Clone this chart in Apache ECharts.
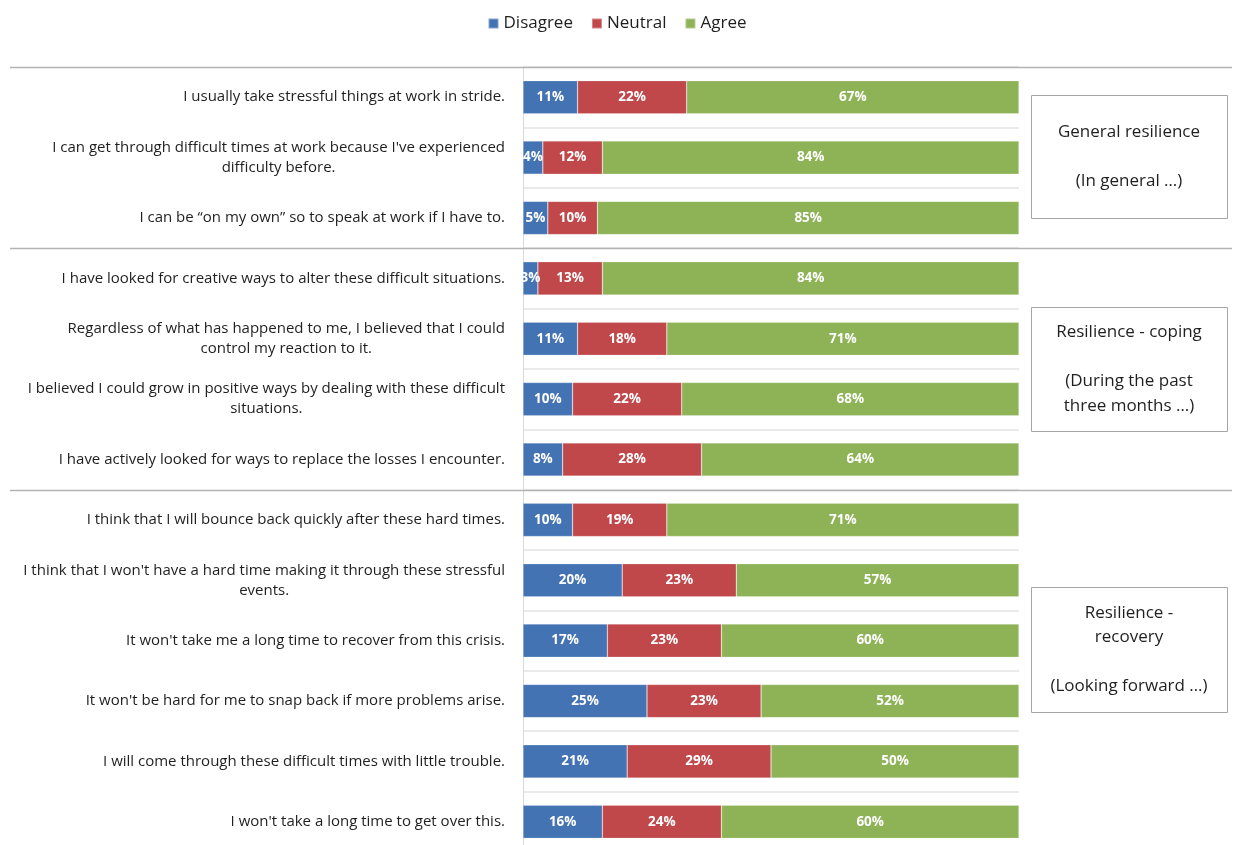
<!DOCTYPE html>
<html>
<head>
<meta charset="utf-8">
<title>Resilience survey</title>
<script src="https://cdn.jsdelivr.net/npm/echarts@6/dist/echarts.min.js"></script>
<style>
  html, body { margin: 0; padding: 0; background: #fff; overflow: hidden; }
  /* the last row runs slightly past the bottom edge of the window */
  #chart { width: 1234px; height: 860px; }
</style>
</head>
<body>
<div id="chart"></div>
<script>
// Survey statements, top to bottom
const statements = [
  "I usually take stressful things at work in stride.",
  "I can get through difficult times at work because I've experienced\ndifficulty before.",
  "I can be \u201con my own\u201d so to speak at work if I have to.",
  "I have looked for creative ways to alter these difficult situations.",
  "Regardless of what has happened to me, I believed that I could\ncontrol my reaction to it.",
  "I believed I could grow in positive ways by dealing with these difficult\nsituations.",
  "I have actively looked for ways to replace the losses I encounter.",
  "I think that I will bounce back quickly after these hard times.",
  "I think that I won't have a hard time making it through these stressful\nevents.",
  "It won't take me a long time to recover from this crisis.",
  "It won't be hard for me to snap back if more problems arise.",
  "I will come through these difficult times with little trouble.",
  "I won't take a long time to get over this."
];

// Share of responses (%)
const disagree = [11, 4, 5, 3, 11, 10, 8, 10, 20, 17, 25, 21, 16];
const neutral  = [22, 12, 10, 13, 18, 22, 28, 19, 23, 23, 23, 29, 24];
const agree    = [67, 84, 85, 84, 71, 68, 64, 71, 57, 60, 52, 50, 60];

// Statement groups: first and last row index, plus the caption shown beside them
const groups = [
  { from: 0, to: 2,  box: { x: 1031, y: 95,  w: 196, h: 123 },
    text: "General resilience\n\n(In general \u2026)" },
  { from: 3, to: 6,  box: { x: 1031, y: 307, w: 196, h: 124 },
    text: "Resilience - coping\n\n(During the past\nthree months \u2026)" },
  { from: 7, to: 12, box: { x: 1031, y: 587, w: 196, h: 125 },
    text: "Resilience -\nrecovery\n\n(Looking forward \u2026)" }
];

const FONT = "'Open Sans', Lato, sans-serif";
const TEXT = '#1f1f1f';
const COLORS = { disagree: '#4473B4', neutral: '#C0474A', agree: '#8DB356' };

const chart = echarts.init(document.getElementById('chart'), null, { renderer: 'canvas' });

function barSeries(name, data, color) {
  return {
    name: name,
    type: 'bar',
    stack: 'total',
    data: data,
    barWidth: '55%',
    itemStyle: { color: color, borderColor: 'rgba(255,255,255,0.35)', borderWidth: 0.6 },
    label: {
      show: true,
      position: 'inside',
      formatter: p => p.value + '%',
      color: '#fff',
      fontWeight: 'bold',
      fontSize: 13.5,
      fontFamily: FONT
    },
    emphasis: { disabled: true }
  };
}

chart.setOption({
  animation: false,
  backgroundColor: '#fff',
  legend: {
    top: 10,
    left: 'center',
    icon: 'rect',
    itemWidth: 10,
    itemHeight: 10,
    itemGap: 18,
    textStyle: { fontFamily: FONT, fontSize: 17, color: TEXT },
    data: ['Disagree', 'Neutral', 'Agree']
  },
  grid: { left: 523, top: 67, width: 496, height: 785, containLabel: false },
  xAxis: {
    type: 'value',
    min: 0,
    max: 100,
    show: false
  },
  yAxis: {
    type: 'category',
    inverse: true,
    data: statements,
    axisTick: { show: false },
    axisLine: { show: true, lineStyle: { color: '#d9d9d9', width: 1 } },
    splitLine: { show: true, lineStyle: { color: '#e3e3e3', width: 1.5 } },
    axisLabel: {
      margin: 18,
      lineHeight: 20,
      color: TEXT,
      fontFamily: FONT,
      fontSize: 15,
      formatter: v => v.split('\n').map(l => '{c|' + l + '}').join('\n'),
      rich: {
        c: { align: 'center', fontFamily: FONT, fontSize: 15, color: TEXT, lineHeight: 20 }
      }
    }
  },
  series: [
    barSeries('Disagree', disagree, COLORS.disagree),
    barSeries('Neutral', neutral, COLORS.neutral),
    barSeries('Agree', agree, COLORS.agree)
  ]
});

// Group dividers and captions, placed from the category scale
function drawDecorations() {
  const center = i => chart.convertToPixel({ yAxisIndex: 0 }, i);
  const half = (center(1) - center(0)) / 2;
  const lineY = [center(0) - half];
  groups.slice(1).forEach(g => lineY.push((center(g.from - 1) + center(g.from)) / 2));

  const elements = lineY.map(y => ({
    type: 'line',
    shape: { x1: 10, y1: Math.round(y) + 0.5, x2: 1232, y2: Math.round(y) + 0.5 },
    style: { stroke: '#b3b3b3', lineWidth: 1.5 },
    silent: true,
    z: 10
  }));

  groups.forEach(g => {
    elements.push({
      type: 'rect',
      shape: { x: g.box.x + 0.5, y: g.box.y + 0.5, width: g.box.w, height: g.box.h },
      style: { fill: '#fff', stroke: '#a6a6a6', lineWidth: 1 },
      silent: true,
      z: 10
    });
    elements.push({
      type: 'text',
      x: g.box.x + g.box.w / 2,
      y: g.box.y + g.box.h / 2,
      style: {
        text: g.text,
        fontFamily: FONT,
        fontSize: 17,
        lineHeight: 24.5,
        fill: TEXT,
        align: 'center',
        verticalAlign: 'middle'
      },
      silent: true,
      z: 11
    });
  });

  chart.setOption({ graphic: elements });
}

drawDecorations();
</script>
</body>
</html>
